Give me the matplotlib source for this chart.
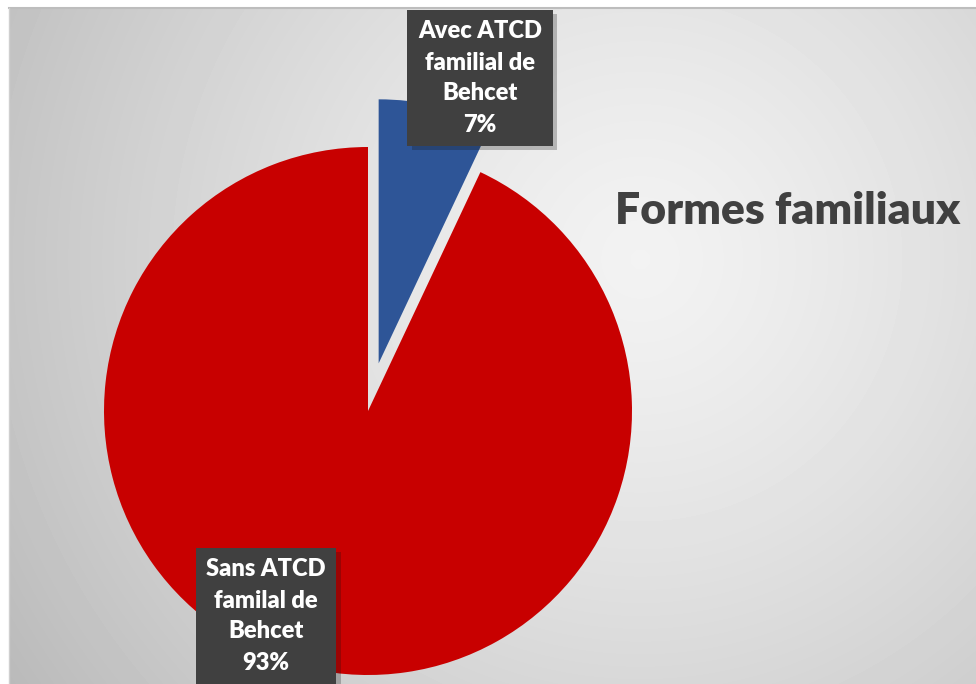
import numpy as np
import matplotlib
matplotlib.use("Agg")
import matplotlib.pyplot as plt
import matplotlib.patheffects as pe

# parts du camembert
categories = ["Avec ATCD\nfamilial de\nBehcet", "Sans ATCD\nfamilal de\nBehcet"]
valeurs = [7, 93]
couleurs = ["#2E5597", "#C80000"]
titre = "Formes familiaux"

W, H = 976, 684
fig = plt.figure(figsize=(W / 100, H / 100), dpi=100)
ax = fig.add_axes([0, 0, 1, 1])

# fond en degrade radial gris
gx, gy = np.meshgrid(np.arange(9, W), np.arange(0, H - 8))
dist = np.hypot(gx - 640, (H - gy) - 260) / 620
niveau = np.clip(0.95 - 0.17 * dist ** 1.3, 0, 1)
ax.imshow(niveau, cmap="gray", vmin=0, vmax=1, extent=(9, W, 0, H - 8),
          origin="lower", zorder=0, interpolation="bilinear")
ax.plot([9, W], [H - 8, H - 8], color="#bdbdbd", lw=1.5, zorder=1)
ax.plot([9, 9], [0, H - 8], color="#cfcfcf", lw=1, zorder=1)

rayon = 264
# explode est en unites de donnees ici (rayon en pixels)
wedges, _ = ax.pie(valeurs, colors=couleurs, startangle=90, counterclock=False,
                   explode=[0.185 * rayon, 0], radius=rayon, center=(368, H - 411),
                   frame=True, wedgeprops=dict(linewidth=0))
for w in wedges:
    w.set_zorder(2)
ax.set_xlim(0, W)
ax.set_ylim(0, H)
ax.set_aspect("equal")
ax.axis("off")

police = ["Lato", "DejaVu Sans"]

# etiquettes de donnees
positions = [(480, H - 78), (266, H - 616)]
for (x, y), nom, v in zip(positions, categories, valeurs):
    t = ax.text(x, y, f"{nom}\n{v}%", ha="center", va="center", color="white",
                fontsize=17, fontweight="heavy", family=police, linespacing=1.5,
                zorder=4, bbox=dict(boxstyle="square,pad=0.45", fc="#404040",
                                    ec="none"))
    t.get_bbox_patch().set_path_effects(
        [pe.SimplePatchShadow(offset=(3, -3), alpha=0.25), pe.Normal()])

ax.text(788, H - 211, titre, ha="center", va="center", color="#404040",
        fontsize=32, fontweight="heavy", family=police, zorder=4)

fig.savefig("out.png", dpi=100)
